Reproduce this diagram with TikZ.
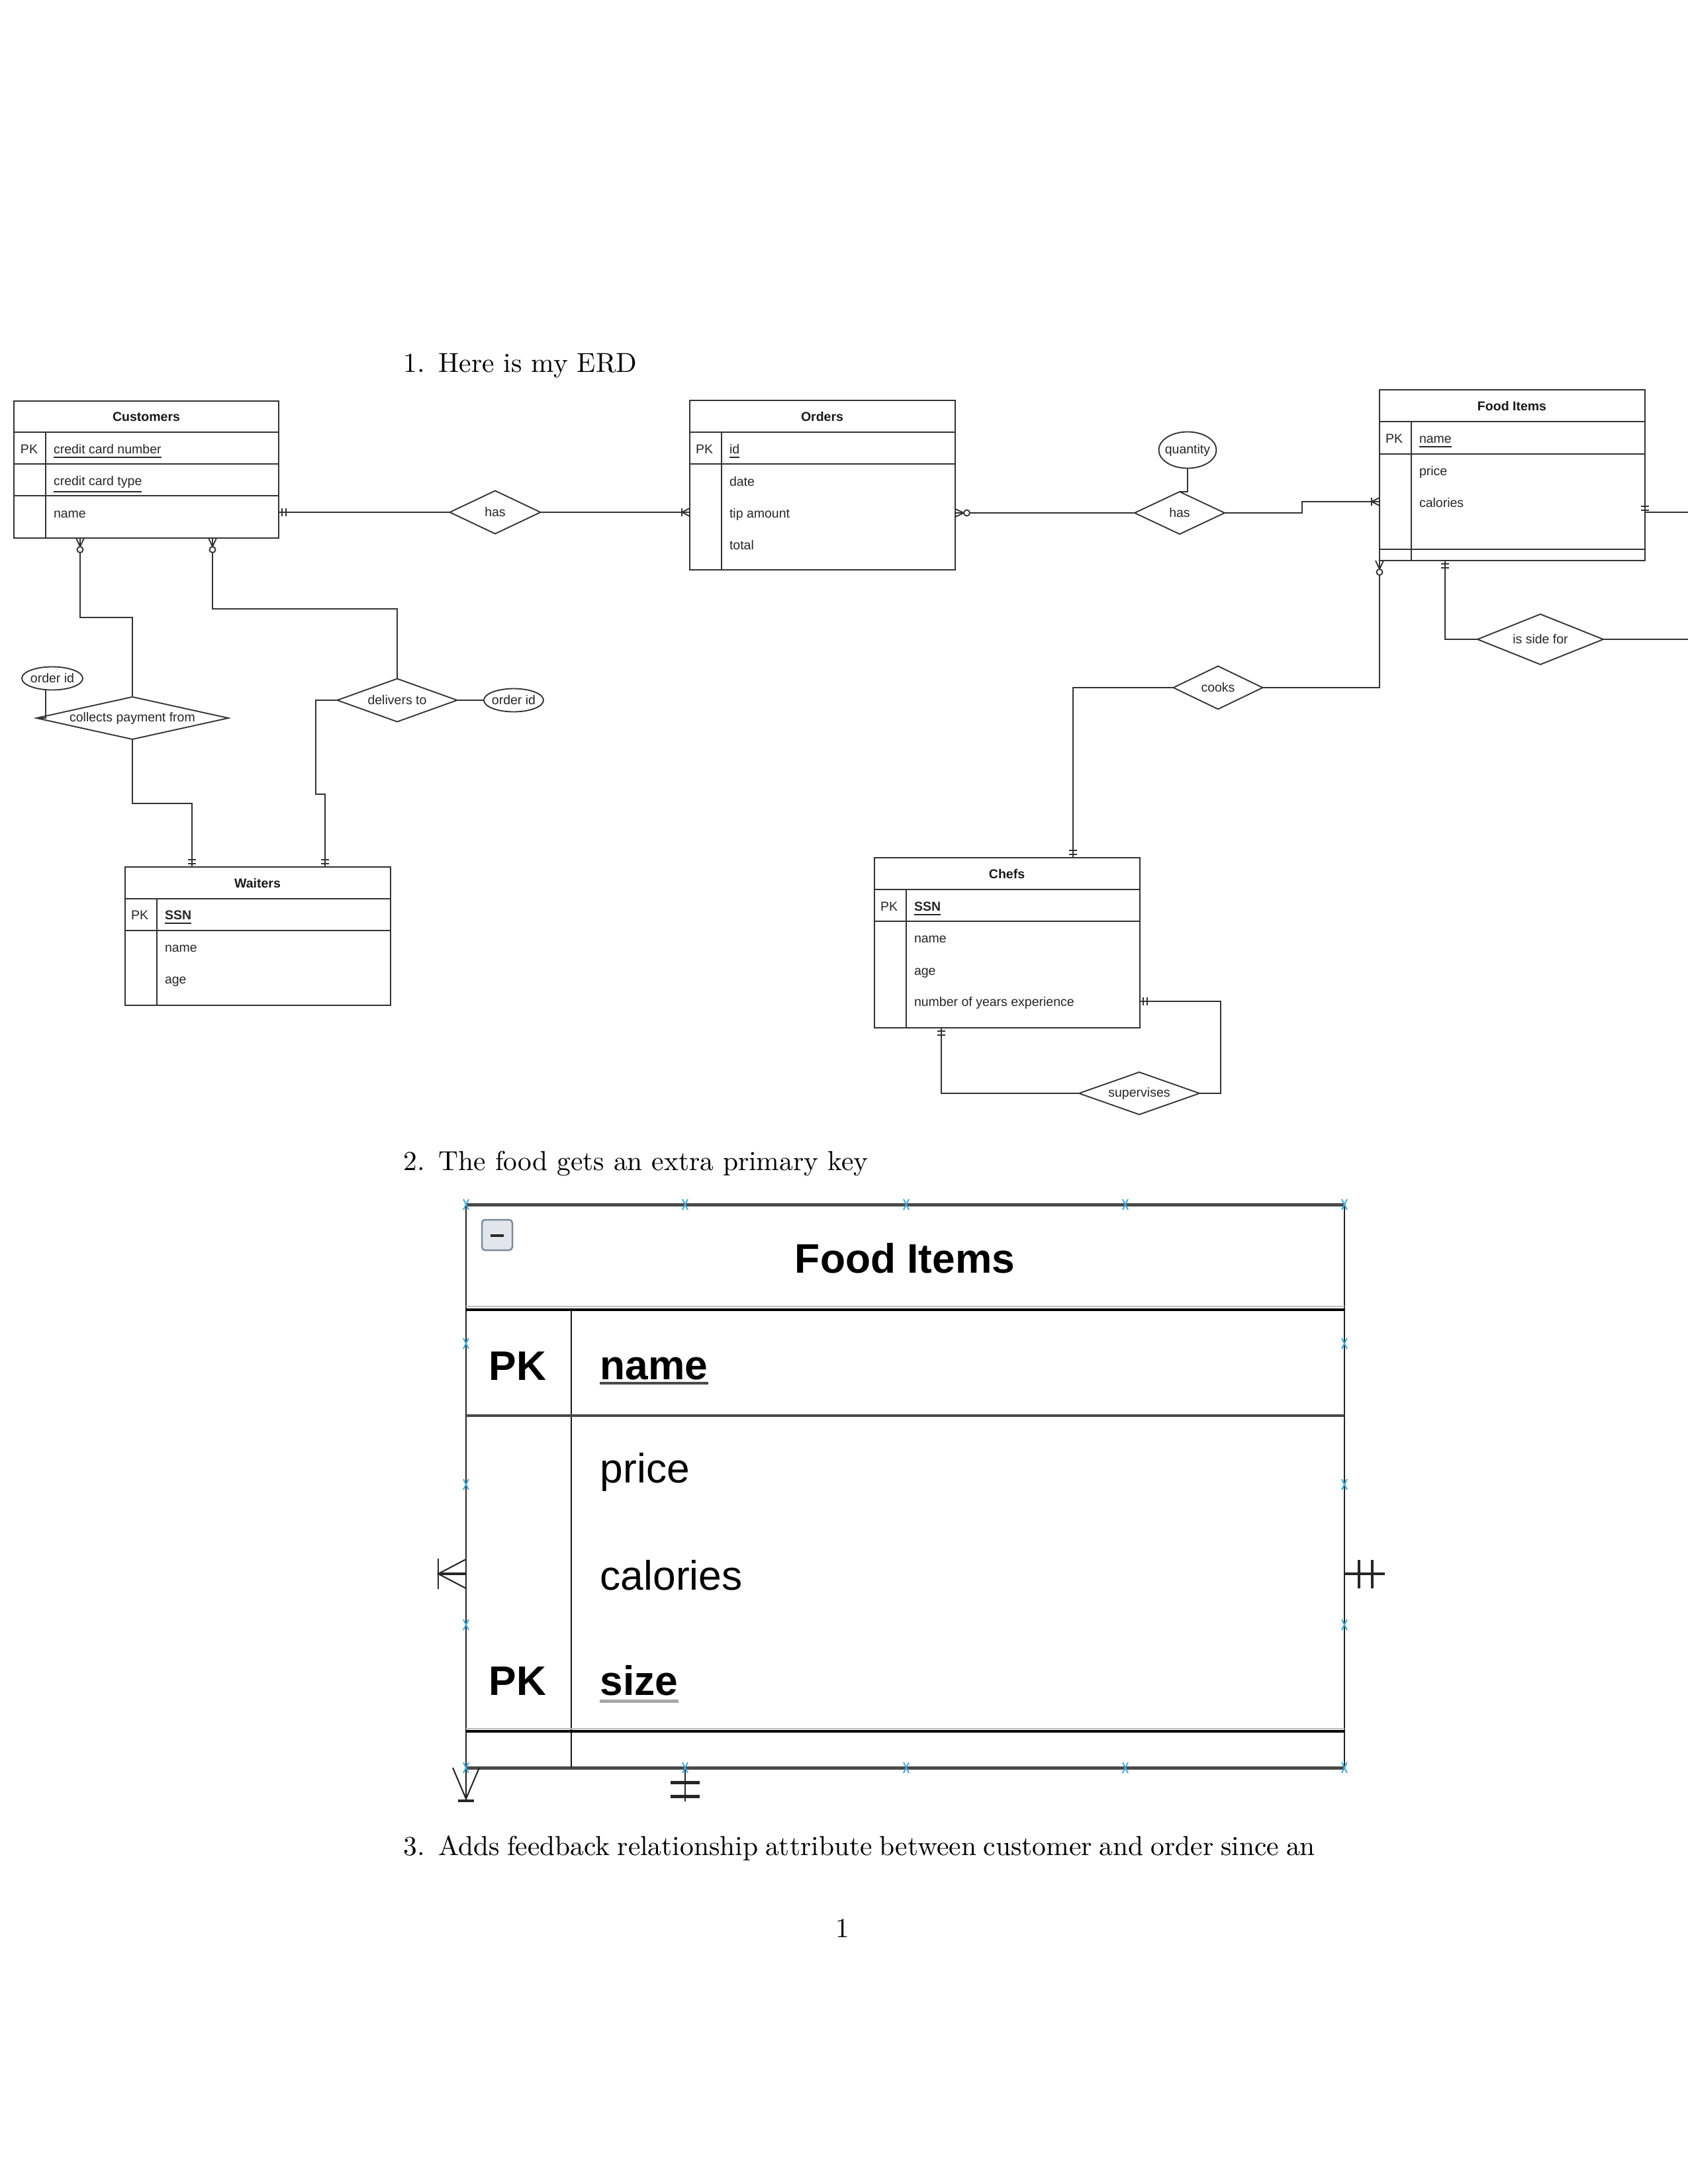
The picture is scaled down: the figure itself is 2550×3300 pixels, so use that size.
\documentclass[tikz,border=0pt]{standalone}
\usepackage{fontspec}
\newfontfamily\erf{Liberation Sans}
\usetikzlibrary{shapes.geometric,fit}
\newlength\px \setlength\px{0.2409pt}
\definecolor{erline}{HTML}{333333}
\definecolor{xblue}{HTML}{3FA9D6}
\definecolor{bigline}{HTML}{4A4A4A}
\definecolor{iconborder}{HTML}{7D8A9C}
\definecolor{iconfill}{HTML}{E2E6EC}
\tikzset{
  er/.style={draw=erline, line width=0.45pt},
  tbl/.style={draw=erline, line width=0.45pt, inner sep=0pt, outer sep=0pt, rectangle},
  ertxt/.style={font=\erf\fontsize{4.7}{5.6}\selectfont, text=black!85, inner sep=0pt, outer sep=0pt},
  erattr/.style={ertxt, anchor=base west},
  ertitle/.style={font=\erf\bfseries\fontsize{4.7}{5.6}\selectfont, text=black!90, inner sep=0pt, anchor=base},
  rel/.style={diamond, draw=erline, line width=0.45pt, inner sep=0pt, outer sep=0pt},
  attr/.style={ellipse, draw=erline, line width=0.45pt, inner sep=0pt, outer sep=0pt},
  doc/.style={inner sep=0pt, anchor=base west},
  bigtxt/.style={font=\erf\fontsize{15}{18}\selectfont, inner sep=0pt, anchor=base west},
  bigbold/.style={font=\erf\bfseries\fontsize{15}{18}\selectfont, inner sep=0pt, anchor=base west},
  bigmk/.style={draw=black!85, line width=0.5pt},
  mone/.pic={\draw[er] (5,-6) -- (5,6) (11,-6) -- (11,6);},
  mmany/.pic={\draw[er] (0,-6) -- (12,0) -- (0,6) (12,-6) -- (12,6);},
  zmany/.pic={\draw[er] (0,-6) -- (13,0) -- (0,6); \draw[er, fill=white] (17.5,0) circle[radius=4.5];},
  bx/.pic={\draw[xblue, line width=0.45pt] (-4,-8) -- (4,8) (-4,8) -- (4,-8);},
}
\begin{document}
\begin{tikzpicture}[x=0.2409pt, y=-0.2409pt]
\useasboundingbox (0,0) rectangle (2550,3300);

% ---------------- document text ----------------
\node[doc] (n1) at (609,562) {1.};
\node[doc] (t1) at (662,562) {Here is my ERD};
\node[doc] (n2) at (609,1768) {2.};
\node[doc] (t2) at (662,1768) {The food gets an extra primary key};
\node[doc] (n3) at (609,2803) {3.};
\node[doc] (t3) at (662,2803) {\makebox[319pt][s]{Adds feedback relationship attribute between customer and order since an}};
\node[inner sep=0pt, anchor=base] (pg) at (1273,2927) {1};

% ---------------- Customers ----------------
\node[tbl, fit={(21,606) (421,813)}] (cust) {};
\draw[er] (21,653) -- (421,653) (21,701) -- (421,701) (21,749) -- (421,749) (69,653) -- (69,813);
\node[ertitle] (custT) at (221,636) {Customers};
\node[erattr] (custPK) at (31,685) {PK};
\node[erattr] (custA1) at (81,685) {\underline{credit card number}};
\node[erattr] (custA2) at (81,733) {\underline{credit card type}};
\node[erattr] (custA3) at (81,782) {name};

% ---------------- Orders ----------------
\node[tbl, fit={(1042,605) (1443,861)}] (ord) {};
\draw[er] (1042,653) -- (1443,653) (1042,701) -- (1443,701) (1090,653) -- (1090,861);
\node[ertitle] (ordT) at (1242,636) {Orders};
\node[erattr] (ordPK) at (1051,685) {PK};
\node[erattr] (ordA1) at (1102,685) {\underline{id}};
\node[erattr] (ordA2) at (1102,734) {date};
\node[erattr] (ordA3) at (1102,782) {tip amount};
\node[erattr] (ordA4) at (1102,830) {total};

% ---------------- Food Items (ERD) ----------------
\node[tbl, fit={(2084,589) (2485,847)}] (food) {};
\draw[er] (2084,637) -- (2485,637) (2084,686) -- (2485,686) (2084,830) -- (2485,830) (2132,637) -- (2132,847);
\node[ertitle] (foodT) at (2284,620) {Food Items};
\node[erattr] (foodPK) at (2093,669) {PK};
\node[erattr] (foodA1) at (2144,669) {\underline{name}};
\node[erattr] (foodA2) at (2144,718) {price};
\node[erattr] (foodA3) at (2144,766) {calories};

% ---------------- Waiters ----------------
\node[tbl, fit={(189,1310) (590,1519)}] (wait) {};
\draw[er] (189,1358) -- (590,1358) (189,1406) -- (590,1406) (237,1358) -- (237,1519);
\node[ertitle] (waitT) at (389,1341) {Waiters};
\node[erattr] (waitPK) at (198,1389) {PK};
\node[erattr] (waitA1) at (249,1389) {\bfseries\underline{SSN}};
\node[erattr] (waitA2) at (249,1438) {name};
\node[erattr] (waitA3) at (249,1486) {age};

% ---------------- Chefs ----------------
\node[tbl, fit={(1321,1296) (1722,1553)}] (chef) {};
\draw[er] (1321,1344) -- (1722,1344) (1321,1392) -- (1722,1392) (1369,1344) -- (1369,1553);
\node[ertitle] (chefT) at (1521,1327) {Chefs};
\node[erattr] (chefPK) at (1330,1376) {PK};
\node[erattr] (chefA1) at (1381,1376) {\bfseries\underline{SSN}};
\node[erattr] (chefA2) at (1381,1424) {name};
\node[erattr] (chefA3) at (1381,1473) {age};
\node[erattr] (chefA4) at (1381,1520) {number of years experience};

% ---------------- relationships & attributes ----------------
\node[rel, minimum width=137*\px, minimum height=65*\px, label={[ertxt]center:has}] (has1) at (748,774) {};
\node[rel, minimum width=290*\px, minimum height=64*\px, label={[ertxt]center:collects payment from}] (coll) at (200,1085) {};
\node[rel, minimum width=181*\px, minimum height=65*\px, label={[ertxt]center:delivers to}] (deliv) at (600,1058) {};
\node[rel, minimum width=136*\px, minimum height=64*\px, label={[ertxt]center:has}] (has2) at (1782,775) {};
\node[rel, minimum width=135*\px, minimum height=65*\px, label={[ertxt]center:cooks}] (cooks) at (1840,1039) {};
\node[rel, minimum width=190*\px, minimum height=76*\px, label={[ertxt]center:is side for}] (isside) at (2327,966) {};
\node[rel, minimum width=182*\px, minimum height=64*\px, label={[ertxt]center:supervises}] (sup) at (1721,1652) {};
\node[attr, minimum width=92*\px, minimum height=35*\px, label={[ertxt]center:order id}] (oid1) at (79,1025) {};
\node[attr, minimum width=90*\px, minimum height=35*\px, label={[ertxt]center:order id}] (oid2) at (776,1058) {};
\node[attr, minimum width=87*\px, minimum height=55*\px, label={[ertxt]center:quantity}] (qty) at (1794,680) {};

\coordinate (edgeA) at (2550,774);
\coordinate (edgeB) at (2550,966);

% ---------------- connectors ----------------
\draw[er] (cust.east |- 0,774) -- (has1.west);
\draw[er] (has1.east) -- (ord.west |- 0,774);
\draw[er] (ord.east |- 0,775) -- (has2.west);
\draw[er] (qty.south) -- (qty.south |- has2.north) -- (has2.north);
\draw[er] (has2.east) -- (1967,775) -- (1967,758) -- (food.west |- 0,758);
\draw[er] (food.east |- edgeA) -- (edgeA);
\draw[er] (food.south west) |- (cooks.east);
\draw[er] (cooks.west) -| (chef.north -| 1621,0);
\draw[er] (food.south -| 2183,0) |- (isside.west);
\draw[er] (isside.east) -- (edgeB);
\draw[er] (chef.east |- 0,1513) -- (1844,1513) |- (sup.east);
\draw[er] (sup.west) -| (chef.south -| 1422,0);
\draw[er] (cust.south -| 121,0) -- (121,933) -| (coll.north);
\draw[er] (cust.south -| 321,0) -- (321,920) -| (deliv.north);
\draw[er] (oid1.240) |- (coll.west);
\draw[er] (deliv.east) -- (oid2.west);
\draw[er] (coll.south) -- (200,1214) -| (wait.north -| 290,0);
\draw[er] (deliv.west) -- (477,1058) -- (477,1200) -- (491,1200) -- (wait.north -| 491,0);

% ---------------- cardinality marks ----------------
\pic at (421,774) {mone};
\pic[rotate=180] at (1042,774) {mmany};
\pic at (1443,775) {zmany};
\pic[rotate=180] at (2084,758) {mmany};
\pic[rotate=90] at (2485,776) {mone};
\pic[rotate=-90] at (2084,847) {zmany};
\pic[rotate=-90] at (2183,847) {mone};
\pic[rotate=90] at (1621,1296) {mone};
\pic at (1722,1513) {mone};
\pic[rotate=-90] at (1422,1553) {mone};
\pic[rotate=-90] at (121,813) {zmany};
\pic[rotate=-90] at (321,813) {zmany};
\pic[rotate=90] at (290,1310) {mone};
\pic[rotate=90] at (491,1310) {mone};

% ---------------- zoomed Food Items table ----------------
\node[fit={(704,1820) (2031,2671)}, inner sep=0pt, outer sep=0pt, draw=black!85, line width=0.6pt] (bigT) {};
\draw[draw=bigline, line width=1.2pt] (bigT.north west) -- (bigT.north east);
\draw[draw=bigline, line width=1.2pt] (bigT.south west) -- (bigT.south east);
\draw[draw=black!25, line width=0.5pt] (704,1974) -- (2031,1974);
\draw[draw=black, line width=1pt] (704,1979) -- (2031,1979);
\draw[draw=black!90, line width=0.5pt] (863,1979) -- (863,2671);
\draw[draw=bigline, line width=1pt] (704,2139) -- (2031,2139);
\draw[draw=black!25, line width=0.5pt] (704,2612) -- (2031,2612);
\draw[draw=black, line width=0.8pt] (704,2616) -- (2031,2616);

\node[draw=iconborder, fill=iconfill, minimum width=46*\px, minimum height=46*\px, inner sep=0pt, rounded corners=1.2pt, line width=0.6pt] (collapse) at (751,1866) {};
\draw[line width=1.1pt, black!85] (741,1867) -- (761,1867);

\node[font=\erf\bfseries\fontsize{15}{18}\selectfont, inner sep=0pt, anchor=base] (bigTitle) at (1367,1923) {Food Items};
\node[bigbold] (bigPK1) at (738,2085) {PK};
\node[bigbold] (bigName) at (906,2084) {name};
\draw[draw=bigline, line width=1pt] ([yshift=-1.5pt]bigName.base west) -- ([yshift=-1.5pt]bigName.base east);
\node[bigtxt] (bigPrice) at (906,2240) {price};
\node[bigtxt] (bigCal) at (906,2402) {calories};
\node[bigbold] (bigPK2) at (738,2561) {PK};
\node[bigbold] (bigSize) at (906,2561) {size};
\draw[draw=gray!70, line width=1.2pt] ([yshift=-2.2pt]bigSize.base west) -- ([yshift=-2.2pt]bigSize.base east);

% marks around zoomed table
\draw[bigmk] (704,2356) -- (662,2378) -- (704,2400);
\draw[bigmk, line width=1pt] (662,2378) -- (704,2378);
\draw[bigmk] (662,2355) -- (662,2401);
\draw[bigmk, line width=1pt] (2031,2378) -- (2092,2378);
\draw[bigmk, line width=0.8pt] (2053,2357) -- (2053,2400) (2073,2357) -- (2073,2400);
\draw[bigmk] (684,2671) -- (704,2718) -- (724,2671) (704,2671) -- (704,2718);
\draw[bigmk, line width=1pt] (692,2721) -- (716,2721);
\draw[bigmk] (1035,2671) -- (1035,2722);
\draw[bigmk, line width=1.2pt] (1013,2693) -- (1057,2693) (1013,2714) -- (1057,2714);

\foreach \xx in {704,1035,1369,1700,2031} {
  \pic at (\xx,1820) {bx};
  \pic at (\xx,2671) {bx};
}
\foreach \yy in {2030,2243,2455} {
  \pic at (704,\yy) {bx};
  \pic at (2031,\yy) {bx};
}
\end{tikzpicture}
\end{document}
